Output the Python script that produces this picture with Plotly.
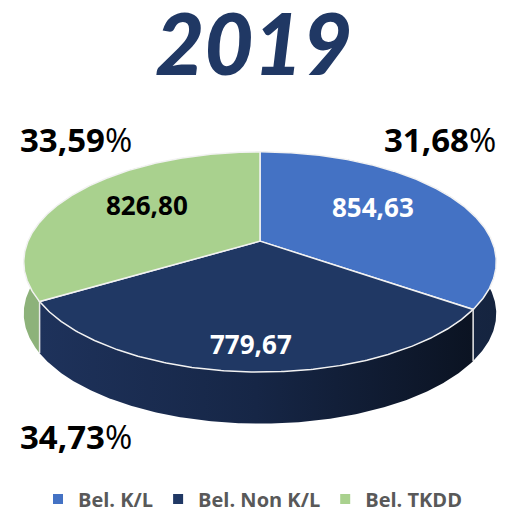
import numpy as np
import plotly.graph_objects as go

# ---------------- data ----------------
TITLE = "2019"
CATEGORIES = ["Bel. K/L", "Bel. Non K/L", "Bel. TKDD"]
VALUES = [854.63, 779.67, 826.80]

# ---------------- styling ----------------
TOP_COLORS = ["#4472C4", "#203864", "#A9D18E"]
SIDE_SCALES = [
    [[0, "#1B2D53"], [1, "#15243F"]],
    [[0, "#1E325B"], [0.5, "#162646"], [1, "#0B1322"]],
    [[0, "#8DB27A"], [1, "#8DB27A"]],
]
LABEL_COLORS = ["white", "white", "black"]
LABEL_R = [0.575, 0.868, 0.589]          # radial position of value labels
PCT_POS = [(76, 440), (440, 141), (76, 141)]  # pixel centres of percentage labels

W, H = 505, 519
CX, CY = 260, 243       # pixel position of pie apex
A, B = 232, 107         # pixel half-axes
K = 0.189               # perspective factor
T = 52 / B              # side thickness in y units

def proj(theta, rho=1.0):
    u = rho * np.sin(theta)
    v = rho * np.cos(theta)
    s = 1.0 / (1.0 + K * v)
    return u * s, v * s

total = sum(VALUES)
fracs = [v / total for v in VALUES]
cum = np.concatenate([[0], np.cumsum(fracs)])
angles = 2 * np.pi * cum

fig = go.Figure()

# sides
for i, cat in enumerate(CATEGORIES):
    th = np.linspace(angles[i], angles[i + 1], max(3, int(np.degrees(angles[i + 1] - angles[i]) * 2)))
    x, y = proj(th)
    xs = np.concatenate([x, x[::-1]])
    ys = np.concatenate([y, y[::-1] - T])
    fig.add_trace(go.Scatter(
        x=xs, y=ys, mode="lines", fill="toself",
        line=dict(width=0), fillcolor=SIDE_SCALES[i][0][1],
        fillgradient=dict(type="horizontal", colorscale=SIDE_SCALES[i]),
        hoverinfo="skip", showlegend=False))

# top faces
for i, cat in enumerate(CATEGORIES):
    th = np.linspace(angles[i], angles[i + 1], max(3, int(np.degrees(angles[i + 1] - angles[i]) * 2)))
    x, y = proj(th)
    xs = np.concatenate([[0], x, [0]])
    ys = np.concatenate([[0], y, [0]])
    fig.add_trace(go.Scatter(
        x=xs, y=ys, mode="lines", fill="toself",
        fillcolor=TOP_COLORS[i], line=dict(color="#F2F2F2", width=1.5),
        hoverinfo="skip", showlegend=False))

# vertical edges on the visible front of the side
for a in angles[1:-1]:
    x, y = proj(np.array([a]))
    if np.cos(a) < 0:
        fig.add_trace(go.Scatter(
            x=[x[0], x[0]], y=[y[0], y[0] - T], mode="lines",
            line=dict(color="#E8E8E8", width=1.5),
            hoverinfo="skip", showlegend=False))

# legend entries
for i, cat in enumerate(CATEGORIES):
    fig.add_trace(go.Scatter(
        x=[None], y=[None], mode="markers", name=cat,
        marker=dict(symbol="square", size=10, color=TOP_COLORS[i])))

annotations = []
# value labels
for i, v in enumerate(VALUES):
    mid = (angles[i] + angles[i + 1]) / 2
    lx, ly = proj(mid, LABEL_R[i])
    annotations.append(dict(
        x=float(lx), y=float(ly), xref="x", yref="y", yshift=7,
        text=f"{v:.2f}".replace(".", ","), showarrow=False,
        font=dict(family="Open Sans", size=26, weight=700, color=LABEL_COLORS[i])))

# percentage labels
for i, f in enumerate(fracs):
    px, py = PCT_POS[i]
    pct = f"{f * 100:.2f}".replace(".", ",")
    annotations.append(dict(
        x=px / W, y=1 - py / H, xref="paper", yref="paper",
        xanchor="center", yanchor="middle",
        text=f"<b>{pct}</b>%", showarrow=False,
        font=dict(family="Open Sans", size=33, color="black")))

# title
annotations.append(dict(
    x=253 / W, y=1 - 42 / H, xref="paper", yref="paper",
    xanchor="center", yanchor="middle", text=TITLE, showarrow=False,
    font=dict(family="Lato", size=85, weight=900, style="italic", color="#203864")))

fig.update_layout(
    width=W, height=H, autosize=False,
    margin=dict(l=0, r=0, t=0, b=0),
    paper_bgcolor="white", plot_bgcolor="white",
    xaxis=dict(range=[(0 - CX) / A, (W - CX) / A], visible=False, fixedrange=True),
    yaxis=dict(range=[(CY - H) / B, CY / B], visible=False, fixedrange=True),
    showlegend=True,
    legend=dict(orientation="h", x=0.5, xanchor="center", y=1 - 503 / H, yanchor="middle",
                font=dict(family="Open Sans", size=20, weight=700, color="#595959"),
                bgcolor="rgba(0,0,0,0)", itemclick=False, itemdoubleclick=False),
    annotations=annotations,
)

fig.write_html("out.html", config={"displayModeBar": False},
               post_script="document.body.style.margin='0';document.body.style.overflow='hidden';")
